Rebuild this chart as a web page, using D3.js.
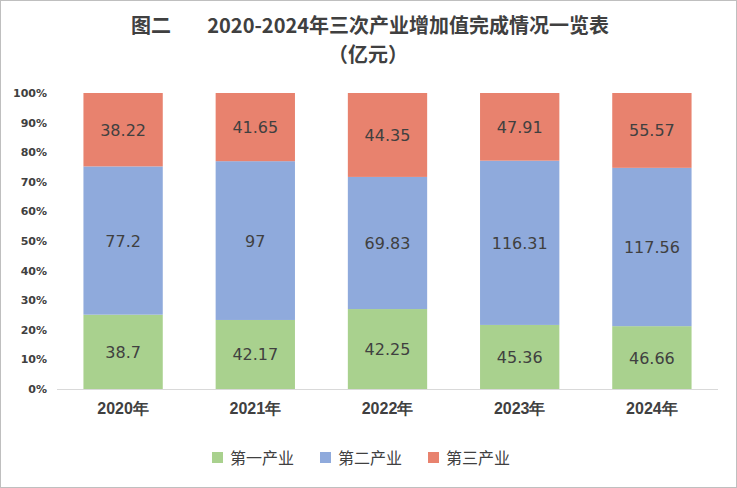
<!DOCTYPE html>
<html>
<head>
<meta charset="utf-8" />
<script src="https://d3js.org/d3.v7.min.js"></script>
<style>
body { margin: 0; background: #fff; }
svg { font-family: "Noto Sans CJK SC", "DejaVu Sans", sans-serif; }
</style>
</head>
<body>
<div id="viz"></div>
<script>
'use strict';

const data = [
  {year: '2020年', a: 38.7, b: 77.2, c: 38.22},
  {year: '2021年', a: 42.17, b: 97, c: 41.65},
  {year: '2022年', a: 42.25, b: 69.83, c: 44.35},
  {year: '2023年', a: 45.36, b: 116.31, c: 47.91},
  {year: '2024年', a: 46.66, b: 117.56, c: 55.57},
];
const keys = ['a', 'b', 'c'];
const names = {a: '第一产业', b: '第二产业', c: '第三产业'};
const colors = {a: '#a9d18e', b: '#8faadc', c: '#e8826e'};

const W = 737, H = 488;
const svg = d3.select('#viz').append('svg').attr('width', W).attr('height', H);
svg.append('rect').attr('x', 0.5).attr('y', 0.5).attr('width', W - 1).attr('height', H - 1)
  .attr('fill', '#fff').attr('stroke', '#bfbfbf');

svg.append('text').attr('x', 370).attr('y', 33).attr('text-anchor', 'middle')
  .attr('font-size', 20).attr('font-weight', 'bold').attr('fill', '#404040')
  .attr('xml:space', 'preserve')
  .text('图二\u00a0\u00a0\u00a0\u00a0\u00a0\u00a0\u00a0\u00a02020-2024年三次产业增加值完成情况一览表');
svg.append('text').attr('x', 368).attr('y', 62).attr('text-anchor', 'middle')
  .attr('font-size', 20).attr('font-weight', 'bold').attr('fill', '#404040')
  .text('（亿元）');

const x = d3.scaleBand().domain(data.map(d => d.year)).range([57, 718])
  .paddingInner(0.4).paddingOuter(0.2);
const y = d3.scaleLinear().domain([0, 1]).range([389, 93]);

const stacked = d3.stack().keys(keys).offset(d3.stackOffsetExpand)(data);

const yAxis = svg.append('g').attr('transform', 'translate(57,0)')
  .call(d3.axisLeft(y).ticks(10).tickFormat(d3.format('.0%')).tickSize(0).tickPadding(10));
yAxis.select('.domain').remove();
yAxis.selectAll('text').attr('font-size', 11).attr('font-weight', 'bold').attr('fill', '#404040')
  .attr('font-family', '"DejaVu Sans", sans-serif');

svg.append('line').attr('x1', 57).attr('x2', 718).attr('y1', 389.5).attr('y2', 389.5)
  .attr('stroke', '#d9d9d9');

stacked.forEach(layer => {
  const g = svg.append('g');
  g.selectAll('rect').data(layer).join('rect')
    .attr('x', d => x(d.data.year))
    .attr('width', x.bandwidth())
    .attr('y', d => y(d[1]))
    .attr('height', d => y(d[0]) - y(d[1]))
    .attr('fill', colors[layer.key]);
  g.selectAll('text').data(layer).join('text')
    .attr('x', d => x(d.data.year) + x.bandwidth() / 2)
    .attr('y', d => (y(d[0]) + y(d[1])) / 2 + 6)
    .attr('text-anchor', 'middle').attr('font-size', 16).attr('fill', '#404040')
    .attr('font-family', '"DejaVu Sans", sans-serif')
    .text(d => d.data[layer.key]);
});

const xAxis = svg.append('g').attr('transform', 'translate(0,389)')
  .call(d3.axisBottom(x).tickSize(0).tickPadding(14));
xAxis.select('.domain').remove();
xAxis.selectAll('text').attr('font-size', 16).attr('font-weight', 'bold').attr('fill', '#404040');

const lg = svg.append('g');
keys.forEach((k, i) => {
  const lx = 212 + i * 108;
  lg.append('rect').attr('x', lx).attr('y', 452).attr('width', 11).attr('height', 11).attr('fill', colors[k]);
  lg.append('text').attr('x', lx + 18).attr('y', 464).attr('font-size', 16).attr('fill', '#404040').text(names[k]);
});
</script>
</body>
</html>
